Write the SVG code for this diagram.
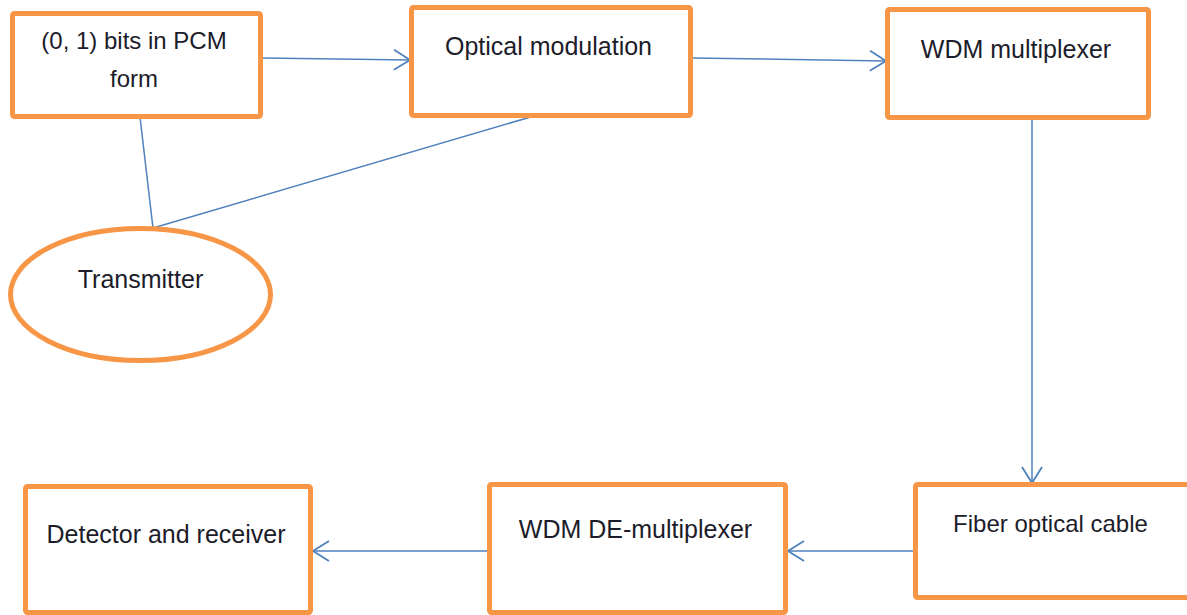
<svg xmlns="http://www.w3.org/2000/svg" width="1187" height="615" viewBox="0 0 1187 615">
<style>
.box{fill:#fff;stroke:#F79646;stroke-width:5}
.lbl{font-family:"Liberation Sans",Arial,sans-serif;font-size:25px;fill:#1c1c2a;text-anchor:middle}
.sm{font-size:24px}
.con{fill:none;stroke:#4F81BD;stroke-width:1.5}
</style>
<defs>
<marker id="arr" markerUnits="userSpaceOnUse" markerWidth="20" markerHeight="24" refX="17" refY="11" orient="auto" viewBox="0 0 20 24">
<path d="M1,1 L17,11 L1,21" fill="none" stroke="#4F81BD" stroke-width="1.8"/>
</marker>
</defs>
<rect width="1187" height="615" fill="#fff"/>
<g id="connectors">
<path class="con" d="M263,58 L410,60" marker-end="url(#arr)"/>
<path class="con" d="M692,58 L886,61" marker-end="url(#arr)"/>
<path class="con" d="M1032,120 L1032,483" marker-end="url(#arr)"/>
<path class="con" d="M913,551 L788,551" marker-end="url(#arr)"/>
<path class="con" d="M487,551 L313,551" marker-end="url(#arr)"/>
<path class="con" d="M140,117 L153,228 L534,116"/>
</g>
<g id="pcm">
<rect class="box" x="12.5" y="13.5" width="248" height="103" rx="2"/>
<text class="lbl sm" x="134" y="49">(0, 1) bits in PCM</text>
<text class="lbl sm" x="134" y="87">form</text>
</g>
<g id="optmod">
<rect class="box" x="411.5" y="7.5" width="279" height="108" rx="2"/>
<text class="lbl" x="548.5" y="55">Optical modulation</text>
</g>
<g id="wdmmux">
<rect class="box" x="887.5" y="9.5" width="261" height="108" rx="2"/>
<text class="lbl" x="1016" y="58">WDM multiplexer</text>
</g>
<g id="transmitter">
<ellipse class="box" cx="140.5" cy="294.5" rx="130" ry="66"/>
<text class="lbl" x="140.5" y="288">Transmitter</text>
</g>
<g id="detector">
<rect class="box" x="25.5" y="486.5" width="285" height="126" rx="2"/>
<text class="lbl" x="166" y="543">Detector and receiver</text>
</g>
<g id="wdmdemux">
<rect class="box" x="489.5" y="484.5" width="296" height="128" rx="2"/>
<text class="lbl" x="635.5" y="538">WDM DE-multiplexer</text>
</g>
<g id="fiber">
<rect class="box" x="915.5" y="484.5" width="280" height="113" rx="2"/>
<text class="lbl sm" x="1050.5" y="532">Fiber optical cable</text>
</g>
</svg>
